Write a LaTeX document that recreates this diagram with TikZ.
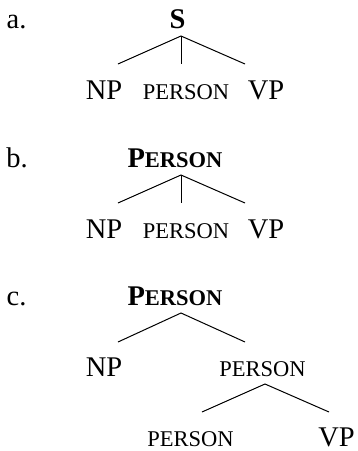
\documentclass[tikz,border=0pt]{standalone}
\usepackage{fontspec}
\setmainfont{Liberation Serif}
% faked small capitals: lowered-size capitals
\newcommand{\smcap}[1]{{\fontsize{22.5pt}{26pt}\selectfont #1}}
\begin{document}
\begin{tikzpicture}[x=1pt,y=-1pt,
  lbl/.style={anchor=base,inner sep=0pt,font=\fontsize{28.5pt}{34pt}\selectfont},
  cat/.style={anchor=base,inner sep=0pt,font=\fontsize{28.5pt}{34pt}\selectfont},
  branch/.style={line width=1pt}]
\useasboundingbox (0,0) rectangle (358,451);

% ---- a. ----
\node[lbl] (la) at (16.5,28) {a.};
\node[cat] (aS) at (177.5,28) {\textbf{S}};
\coordinate (aTop) at (181,36);
\coordinate (aL) at (118,64);
\coordinate (aM) at (181,64);
\coordinate (aR) at (245,64);
\node[cat] (aNP) at (104,99) {NP};
\node[cat] (aPer) at (186,99) {\smcap{PERSON}};
\node[cat] (aVP) at (266,99) {VP};
\draw[branch] (aL) -- (aTop) -- (aR);
\draw[branch] (aTop) -- (aM);

% ---- b. ----
\node[lbl] (lb) at (17,167) {b.};
\node[cat] (bRoot) at (175,167) {\textbf{P\smcap{ERSON}}};
\coordinate (bTop) at (181,175);
\coordinate (bL) at (118,203);
\coordinate (bM) at (181,203);
\coordinate (bR) at (245,203);
\node[cat] (bNP) at (104,238) {NP};
\node[cat] (bPer) at (186,238) {\smcap{PERSON}};
\node[cat] (bVP) at (266,238) {VP};
\draw[branch] (bL) -- (bTop) -- (bR);
\draw[branch] (bTop) -- (bM);

% ---- c. ----
\node[lbl] (lc) at (16.5,305) {c.};
\node[cat] (cRoot) at (175,305) {\textbf{P\smcap{ERSON}}};
\coordinate (cTop) at (181,313);
\coordinate (cL) at (118,342);
\coordinate (cR) at (245,342);
\draw[branch] (cL) -- (cTop) -- (cR);
\node[cat] (cNP) at (104,376) {NP};
\node[cat] (cPer) at (262.5,376) {\smcap{PERSON}};
\coordinate (dTop) at (265,384);
\coordinate (dL) at (202,412);
\coordinate (dR) at (329,412);
\draw[branch] (dL) -- (dTop) -- (dR);
\node[cat] (dPer) at (190.5,446) {\smcap{PERSON}};
\node[cat] (dVP) at (336.5,446) {VP};
\end{tikzpicture}
\end{document}
